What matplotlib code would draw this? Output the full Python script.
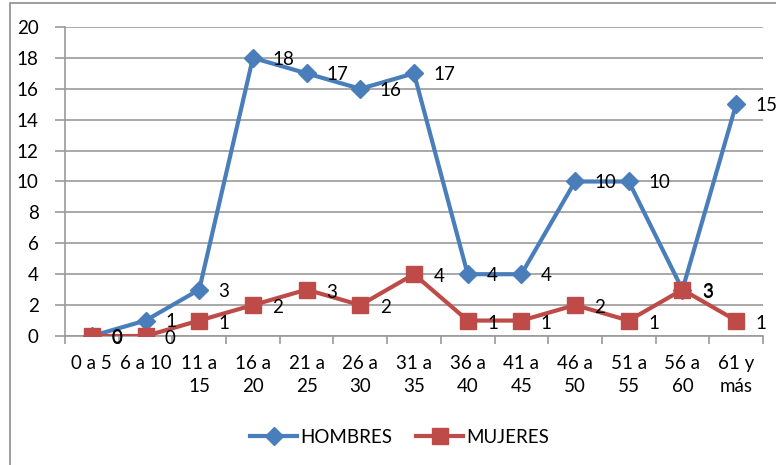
import matplotlib
matplotlib.use("Agg")
import matplotlib.pyplot as plt
from matplotlib.patches import Rectangle
import numpy as np

categorias = ["0 a 5", "6 a 10", "11 a\n15", "16 a\n20", "21 a\n25", "26 a\n30", "31 a\n35",
              "36 a\n40", "41 a\n45", "46 a\n50", "51 a\n55", "56 a\n60", "61 y\nmás"]
hombres = [0, 1, 3, 18, 17, 16, 17, 4, 4, 10, 10, 3, 15]
mujeres = [0, 0, 1, 2, 3, 2, 4, 1, 1, 2, 1, 3, 1]

AZUL = "#4A7EBB"
ROJO = "#BE4B48"
GRIS = "#9a9a9a"
FS = 13.5

plt.rcParams.update({"font.family": ["Lato", "DejaVu Sans"], "font.size": FS})

fig = plt.figure(figsize=(7.76, 4.65), dpi=100)
ax = fig.add_axes([65/776, 1 - 336/465, (763 - 65)/776, (336 - 27)/465])
x = np.arange(len(categorias))

ax.plot(x, hombres, color=AZUL, lw=3, marker="D", ms=9, label="HOMBRES", zorder=3)
ax.plot(x, mujeres, color=ROJO, lw=3, marker="s", ms=11, label="MUJERES", zorder=4)

for xi, v in zip(x, hombres):
    ax.annotate(str(v), (xi, v), xytext=(14, -1), textcoords="offset points",
                ha="left", va="center", fontsize=FS, zorder=5)
for xi, v in zip(x, mujeres):
    ax.annotate(str(v), (xi, v), xytext=(14, -2), textcoords="offset points",
                ha="left", va="center", fontsize=FS, zorder=5)

ax.set_xlim(-0.5, len(categorias) - 0.5)
ax.set_ylim(0, 20)
ax.set_yticks(range(0, 21, 2))
ax.set_xticks(x)
ax.set_xticklabels(categorias, linespacing=1.4)
ax.set_xticks(np.arange(-0.5, len(categorias)), minor=True)
ax.tick_params(axis="x", which="major", length=0, pad=14)
ax.tick_params(axis="x", which="minor", length=6, color=GRIS, width=1.2, direction="out")
ax.tick_params(axis="y", length=7, color=GRIS, width=1.2, pad=12)
ax.yaxis.grid(True, color=GRIS, lw=1.2)
ax.set_axisbelow(True)
for s in ["top", "right"]:
    ax.spines[s].set_visible(False)
for s in ["left", "bottom"]:
    ax.spines[s].set_color(GRIS)
    ax.spines[s].set_linewidth(1.2)

fig.legend(loc="center", bbox_to_anchor=(0.515, 1 - 437/465), ncol=2, frameon=False,
           handlelength=2.5, columnspacing=1.3, handletextpad=0.15, fontsize=FS)

fig.patches.append(Rectangle((10/776, -0.1), 1.2, 1.1 - 3/465, transform=fig.transFigure,
                             fill=False, edgecolor="#8c8c8c", lw=1.2))

fig.savefig("out.png", dpi=100)
